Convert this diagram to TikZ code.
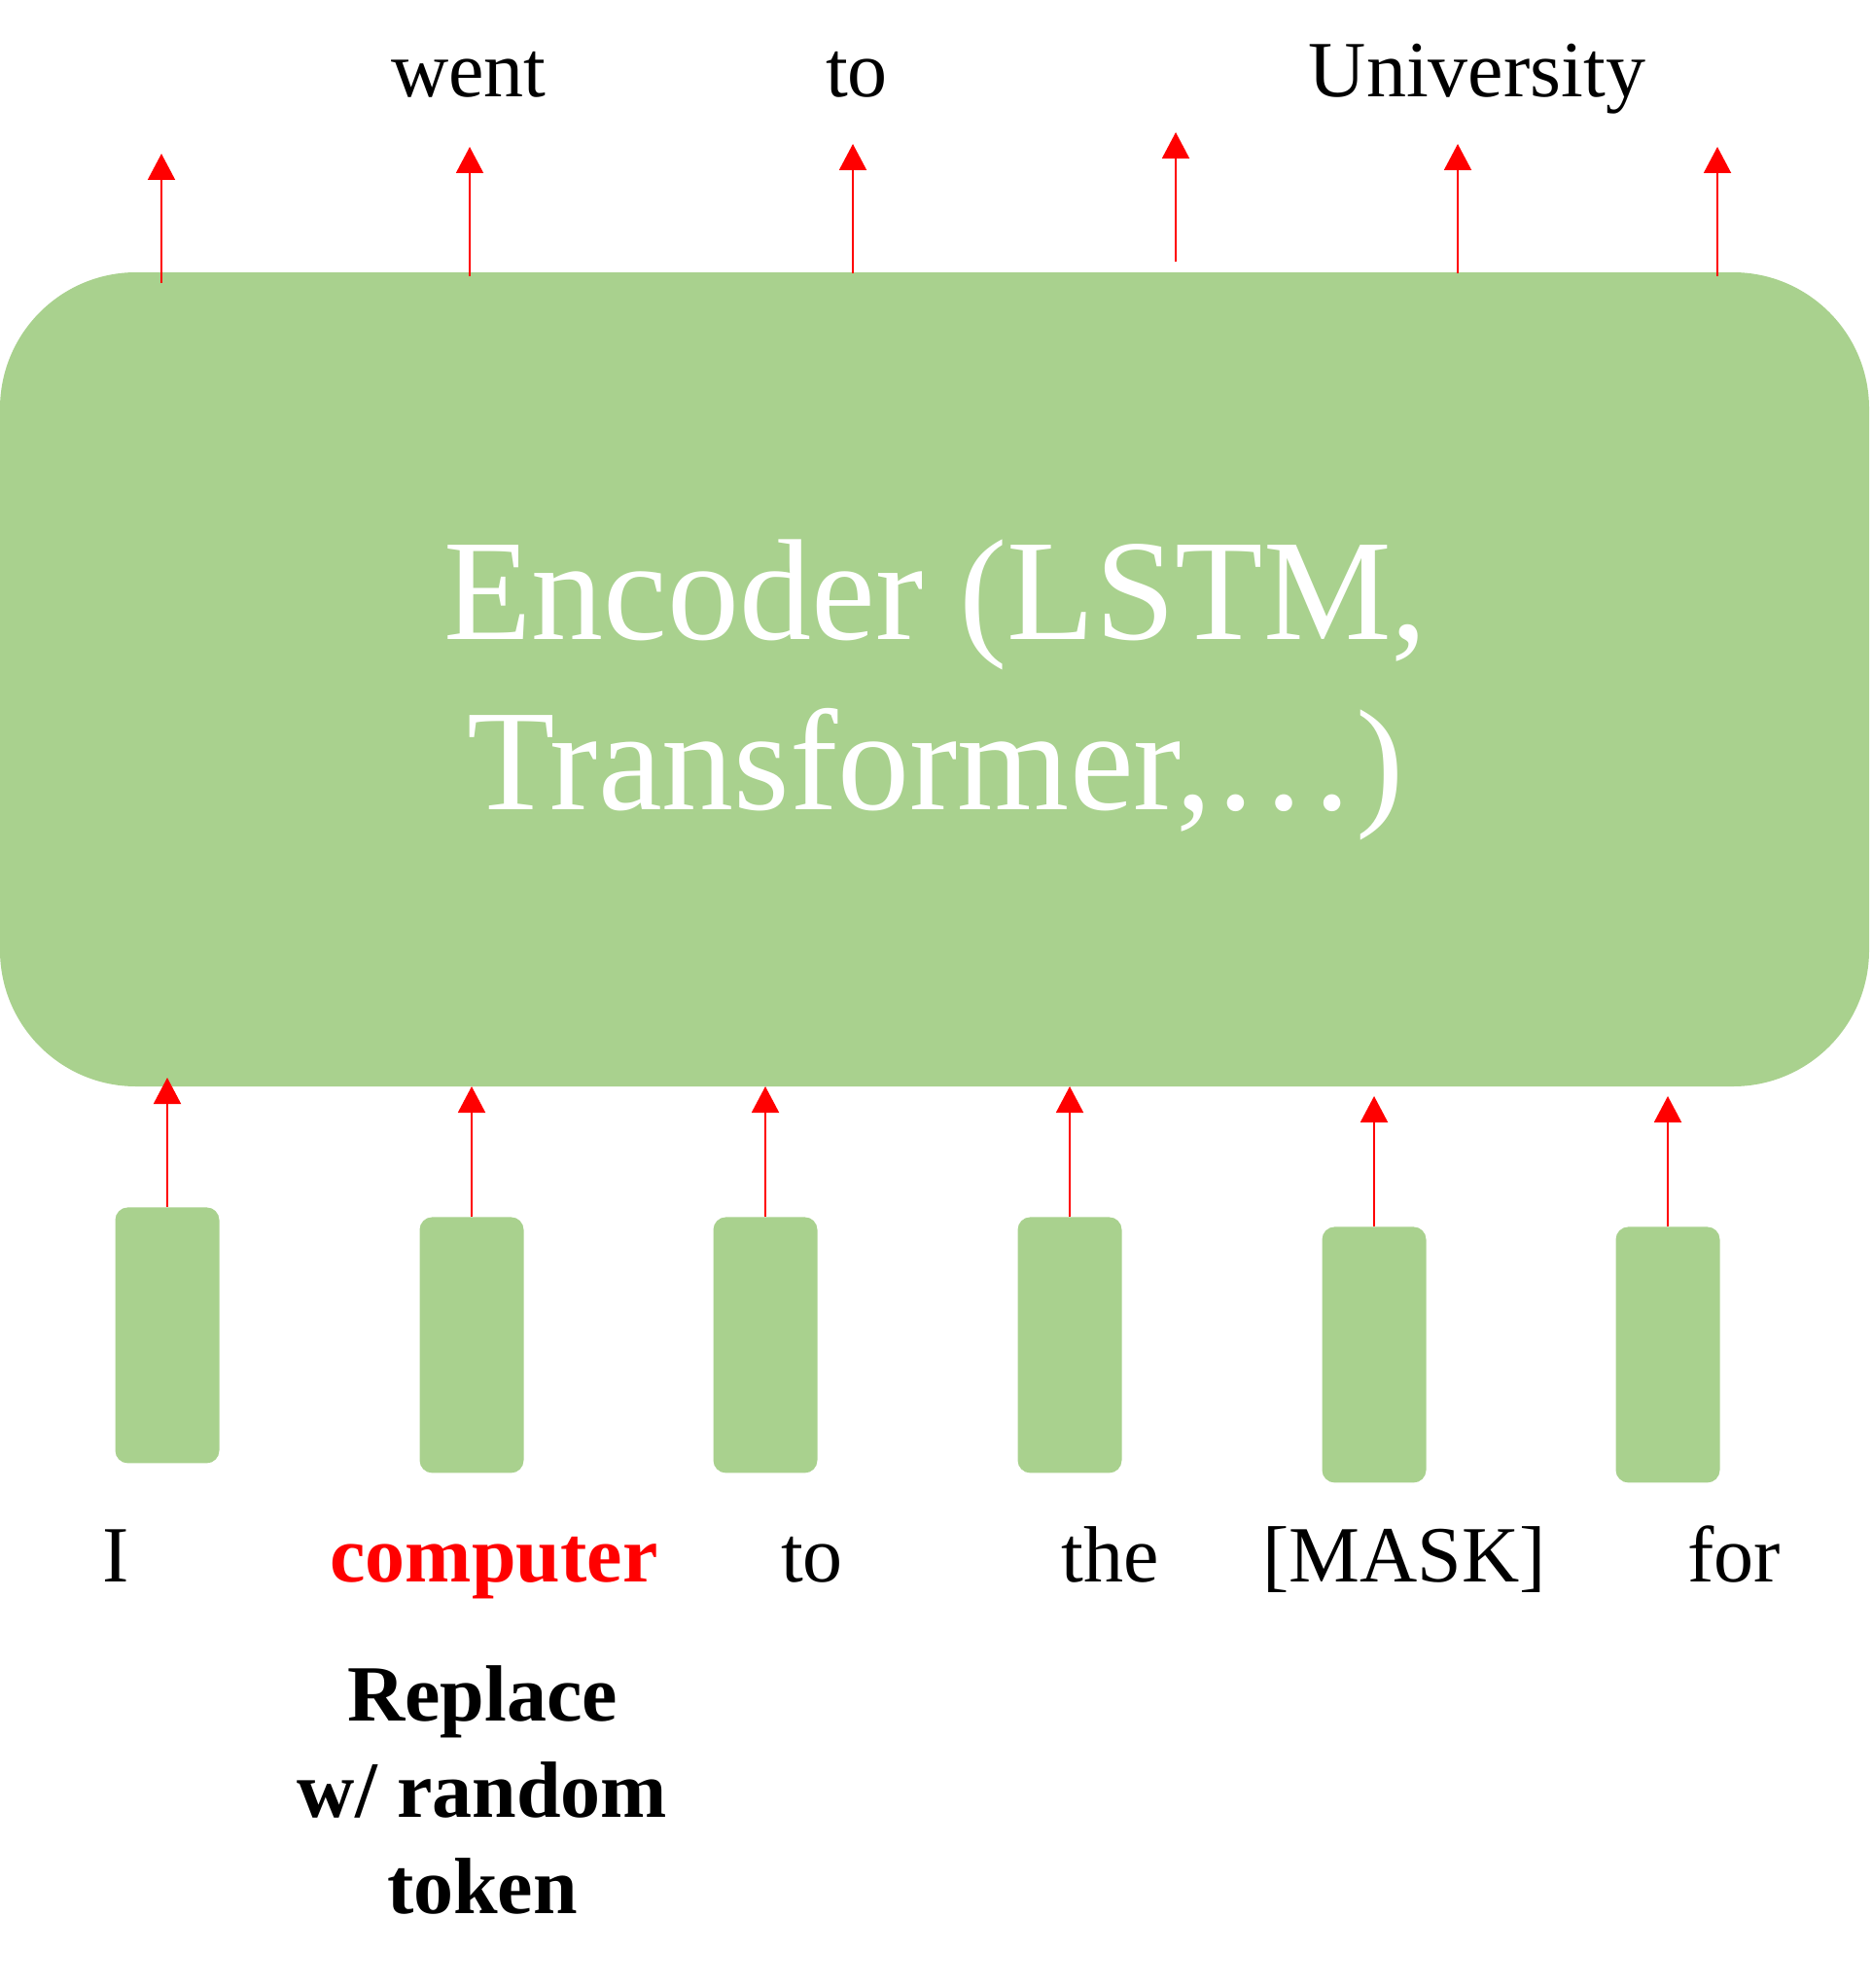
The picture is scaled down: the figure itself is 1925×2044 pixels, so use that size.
\documentclass[tikz,border=0pt]{standalone}
\usepackage{fontspec}
\setmainfont{Liberation Serif}
\usetikzlibrary{arrows.meta}
\definecolor{encgreen}{HTML}{A9D18E}
\definecolor{arrred}{HTML}{FF0000}
\begin{document}
\begin{tikzpicture}[x=0.5pt,y=-0.5pt,
  arr/.style={arrred, line width=1pt, -{Triangle[length=13.5pt,width=14pt]}},
  tok/.style={fill=encgreen, draw=none, rounded corners=6.5pt, minimum width=53.5pt, minimum height=131.5pt, anchor=north, inner sep=0pt},
  word/.style={font=\fontsize{41}{49.5}\selectfont, anchor=base, inner sep=0pt},
  bword/.style={font=\fontsize{41}{49.5}\selectfont\bfseries, anchor=base, inner sep=0pt}]
\useasboundingbox (0,0) rectangle (1925,2044);

% encoder block
\node[fill=encgreen, draw=none, rounded corners=70pt, minimum width=961pt, minimum height=418.5pt, inner sep=0pt] (enc) at (961,698.5) {};
\node[font=\fontsize{74}{87.5}\selectfont, text=white, align=center, anchor=base, inner sep=0pt] (enctext) at (962,832) {Encoder (LSTM,\\Transformer,…)};

% token boxes
\node[tok] (b1) at (172,1241) {};
\node[tok] (b2) at (485,1251) {};
\node[tok] (b3) at (787,1251) {};
\node[tok] (b4) at (1100,1251) {};
\node[tok] (b5) at (1413,1261) {};
\node[tok] (b6) at (1715,1261) {};

% input arrows
\coordinate (u1) at (172,1108);
\coordinate (u2) at (485,1117);
\coordinate (u3) at (787,1117);
\coordinate (u4) at (1100,1117);
\coordinate (u5) at (1413,1127);
\coordinate (u6) at (1715,1127);
\draw[arr] (b1.north) -- (u1);
\draw[arr] (b2.north) -- (u2);
\draw[arr] (b3.north) -- (u3);
\draw[arr] (b4.north) -- (u4);
\draw[arr] (b5.north) -- (u5);
\draw[arr] (b6.north) -- (u6);

% output arrows
\coordinate (s1) at (166,291);  \coordinate (e1) at (166,158);
\coordinate (s2) at (483,284);  \coordinate (e2) at (483,151);
\coordinate (s3) at (877,281);  \coordinate (e3) at (877,148);
\coordinate (s4) at (1209,269); \coordinate (e4) at (1209,136);
\coordinate (s5) at (1499,281); \coordinate (e5) at (1499,148);
\coordinate (s6) at (1766,284); \coordinate (e6) at (1766,151);
\draw[arr] (s1) -- (e1);
\draw[arr] (s2) -- (e2);
\draw[arr] (s3) -- (e3);
\draw[arr] (s4) -- (e4);
\draw[arr] (s5) -- (e5);
\draw[arr] (s6) -- (e6);

% output words
\node[word] (o2) at (482,100) {went};
\node[word] (o3) at (881,100) {to};
\node[word] (o5) at (1519,100) {University};

% input words
\node[word] (w1) at (119,1626) {I};
\node[bword, text=arrred] (w2) at (508,1626) {computer};
\node[word] (w3) at (835,1626) {to};
\node[word] (w4) at (1142,1626) {the};
\node[word] (w5) at (1444,1626) {[MASK]};
\node[word] (w6) at (1783,1626) {for};

% note
\node[bword, align=center] (note) at (496,1967) {Replace\\w/ random\\token};
\end{tikzpicture}
\end{document}
